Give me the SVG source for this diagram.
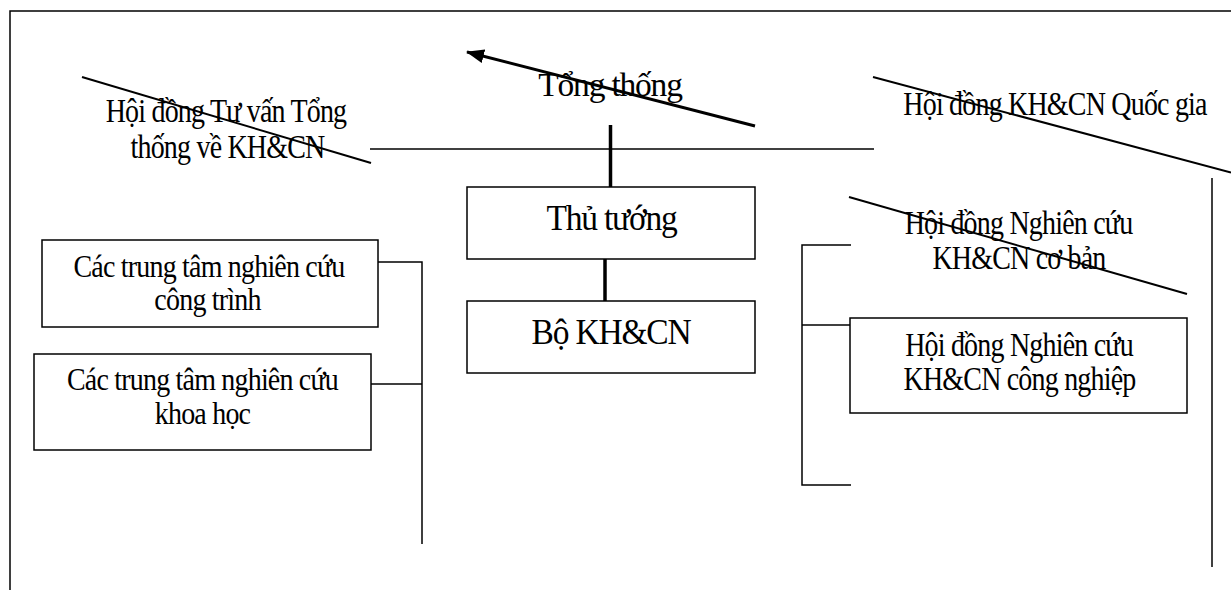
<svg xmlns="http://www.w3.org/2000/svg" width="1231" height="590" viewBox="0 0 1231 590">
<style>
  .box { fill: #ffffff; stroke: #000000; stroke-width: 1.5; }
  .ln { fill: none; stroke: #000000; stroke-width: 1.5; }
  .diag { fill: none; stroke: #000000; stroke-width: 2; }
  .thick { fill: none; stroke: #000000; stroke-width: 3.5; }
  .t { font-family: "Liberation Serif", "Times New Roman", serif; font-size: 28px; letter-spacing: -0.8px; fill: #000000; text-anchor: middle; }
  .tb { font-family: "Liberation Serif", "Times New Roman", serif; font-size: 33.5px; letter-spacing: -1.2px; fill: #000000; text-anchor: middle; }
</style>
<defs>
  <marker id="ah" markerUnits="userSpaceOnUse" markerWidth="18" markerHeight="14" refX="17" refY="7" orient="auto">
    <path d="M0,0 L18,7 L0,14 z" fill="#000000"/>
  </marker>
</defs>
<rect width="1231" height="590" fill="#ffffff"/>
<g id="frame">
  <path class="ln" d="M10,590 L10,11 L1231,11"/>
</g>
<g id="connectors">
  <line class="ln" x1="370" y1="149" x2="874" y2="149"/>
  <line class="thick" x1="610.5" y1="125" x2="610.5" y2="187"/>
  <line class="thick" x1="605" y1="259" x2="605" y2="301"/>
  <path class="ln" d="M378,262 L422,262 L422,544"/>
  <line class="ln" x1="371" y1="384" x2="422" y2="384"/>
  <path class="ln" d="M851,245 L802,245 L802,485 L851,485"/>
  <line class="ln" x1="802" y1="325" x2="850" y2="325"/>
  <line class="ln" x1="1212" y1="178" x2="1212" y2="567"/>
  <line stroke="#000" stroke-width="3" x1="755" y1="126" x2="467" y2="52" marker-end="url(#ah)"/>
</g>
<g id="tong-thong">
  <text class="tb" transform="translate(610,96) scale(1,1.03)">Tổng thống</text>
</g>
<g id="hd-tu-van">
  <text class="t" transform="translate(226,121.5) scale(1,1.2)">Hội đồng Tư vấn Tổng</text>
  <text class="t" transform="translate(227.5,157.5) scale(1,1.2)">thống về KH&amp;CN</text>
  <line class="diag" x1="82" y1="77" x2="371" y2="163"/>
</g>
<g id="hd-quoc-gia">
  <text class="t" transform="translate(1055,115) scale(1,1.2)">Hội đồng KH&amp;CN Quốc gia</text>
  <line class="diag" x1="873" y1="77" x2="1231" y2="172.5"/>
</g>
<g id="thu-tuong">
  <rect class="box" x="467" y="187" width="288" height="72"/>
  <text class="tb" transform="translate(611.5,230) scale(1,1.05)">Thủ tướng</text>
</g>
<g id="bo-khcn">
  <rect class="box" x="467" y="301" width="288" height="72"/>
  <text class="tb" transform="translate(611,344) scale(1,1.07)">Bộ KH&amp;CN</text>
</g>
<g id="tt-cong-trinh">
  <rect class="box" x="42" y="240" width="336" height="87"/>
  <text class="t" transform="translate(209,276.5) scale(1,1.15)">Các trung tâm nghiên cứu</text>
  <text class="t" transform="translate(207.5,310) scale(1,1.15)">công trình</text>
</g>
<g id="tt-khoa-hoc">
  <rect class="box" x="34" y="354" width="337" height="96"/>
  <text class="t" transform="translate(202.5,389.5) scale(1,1.15)">Các trung tâm nghiên cứu</text>
  <text class="t" transform="translate(202.5,423.5) scale(1,1.15)">khoa học</text>
</g>
<g id="hd-co-ban">
  <text class="t" transform="translate(1018.5,234) scale(1,1.18)">Hội đồng Nghiên cứu</text>
  <text class="t" transform="translate(1019,269) scale(1,1.18)">KH&amp;CN cơ bản</text>
  <line class="diag" x1="849" y1="197" x2="1187" y2="294"/>
</g>
<g id="hd-cong-nghiep">
  <rect class="box" x="850" y="318" width="337" height="95"/>
  <text class="t" transform="translate(1019,355.5) scale(1,1.18)">Hội đồng Nghiên cứu</text>
  <text class="t" transform="translate(1019.5,390) scale(1,1.18)">KH&amp;CN công nghiệp</text>
</g>
</svg>
